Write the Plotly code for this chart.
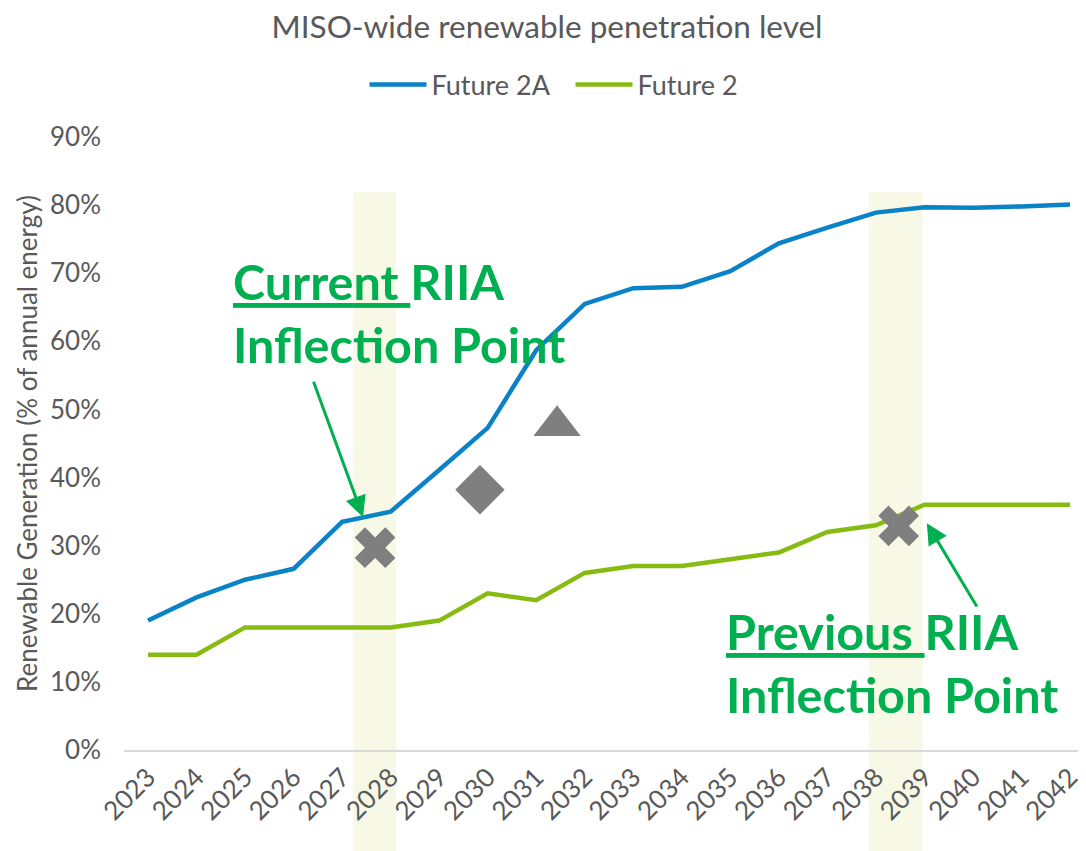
import plotly.graph_objects as go

years = list(range(2023, 2043))
future_2a = [19.0, 22.4, 25.0, 26.6, 33.5, 35.0, 41.1, 47.3, 58.7, 65.5,
             67.8, 68.0, 70.3, 74.4, 76.7, 78.9, 79.7, 79.6, 79.8, 80.1]
future_2 = [14, 14, 18, 18, 18, 18, 19, 23, 22, 26,
            27, 27, 28, 29, 32, 33, 36, 36, 36, 36]
y_ticks = list(range(0, 91, 10))
y_tick_labels = [f"{v}%" for v in y_ticks]

# gray point markers
cross_x = [2027.68, 2038.47]
cross_y = [29.7, 32.9]
diamond_x = [2029.84]
diamond_y = [38.2]
triangle_x = [2031.43]
triangle_y = [47.6]

# highlighted bands (year spans)
bands = [(2027.23, 2028.11), (2037.85, 2038.96)]

GRAY = "#595959"
GREEN_TXT = "#00B050"
FONT = "Lato"

fig = go.Figure()
for x0, x1 in bands:
    fig.add_shape(type="rect", xref="x", yref="paper", x0=x0, x1=x1, y0=-0.2, y1=0.91,
                  fillcolor="#F7F9E6", line=dict(width=0), layer="below")

fig.add_trace(go.Scatter(x=years, y=future_2a, name="Future 2A", mode="lines",
                         line=dict(color="#0A82C8", width=4.5)))
fig.add_trace(go.Scatter(x=years, y=future_2, name="Future 2", mode="lines",
                         line=dict(color="#86BC12", width=4.5)))
fig.add_trace(go.Scatter(x=cross_x, y=cross_y, mode="markers", showlegend=False,
                         marker=dict(symbol="x", size=36, color="#7F7F7F", line=dict(width=0))))
fig.add_trace(go.Scatter(x=diamond_x, y=diamond_y, mode="markers", showlegend=False,
                         marker=dict(symbol="diamond", size=38, color="#7F7F7F", line=dict(width=0))))
fig.add_trace(go.Scatter(x=triangle_x, y=triangle_y, mode="markers", showlegend=False,
                         marker=dict(symbol="triangle-up", size=41, color="#7F7F7F", line=dict(width=0))))

# callout text
fig.add_annotation(x=2024.71, y=64.2, xref="x", yref="y", xanchor="left", yanchor="middle",
                   text="<u>Current </u>RIIA<br>Inflection Point", showarrow=False, align="left",
                   font=dict(family=FONT, size=48.5, color=GREEN_TXT, weight="bold"))
fig.add_annotation(x=2034.87, y=12.8, xref="x", yref="y", xanchor="left", yanchor="middle",
                   text="<u>Previous </u>RIIA<br>Inflection Point", showarrow=False, align="left",
                   font=dict(family=FONT, size=48.5, color=GREEN_TXT, weight="bold"))
# callout arrows
fig.add_annotation(x=2027.43, y=34.2, ax=2026.40, ay=54.3, xref="x", yref="y", axref="x", ayref="y",
                   text="", showarrow=True, arrowhead=2, arrowsize=1.4, arrowwidth=3,
                   arrowcolor=GREEN_TXT, standoff=0)
fig.add_annotation(x=2039.05, y=33.3, ax=2040.10, ay=20.85, xref="x", yref="y", axref="x", ayref="y",
                   text="", showarrow=True, arrowhead=2, arrowsize=1.4, arrowwidth=3,
                   arrowcolor=GREEN_TXT, standoff=0)

# the page body adds an 8px margin, so the figure is 8px smaller than the window
fig.update_layout(
    width=1078, height=843,
    paper_bgcolor="white", plot_bgcolor="rgba(0,0,0,0)",
    margin=dict(l=116, r=0, t=129, b=101, autoexpand=False),
    font=dict(family=FONT, color=GRAY),
    title=dict(text="MISO-wide renewable penetration level", x=0.5, xanchor="center",
               y=0.978, yanchor="middle", font=dict(family=FONT, size=31.5, color=GRAY)),
    legend=dict(orientation="h", x=0.25, xanchor="left", y=1.085, yanchor="middle",
                font=dict(family=FONT, size=27, color=GRAY), itemwidth=57,
                entrywidth=134, entrywidthmode="pixels",
                bgcolor="rgba(0,0,0,0)"),
    xaxis=dict(range=[2022.505, 2042.33], tickmode="array", tickvals=years,
               ticktext=[str(y) for y in years], tickangle=-45, showgrid=False,
               showline=True, linecolor="#D9D9D9", linewidth=1.5, ticks="", zeroline=False,
               automargin=False,
               tickfont=dict(family=FONT, size=26, color=GRAY)),
    yaxis=dict(range=[0, 90], tickmode="array", tickvals=y_ticks, ticktext=y_tick_labels,
               showgrid=False, zeroline=False, showline=False, ticks="",
               ticklabelstandoff=22, automargin=False,
               tickfont=dict(family=FONT, size=26, color=GRAY),
               title=dict(text="Renewable Generation (% of annual energy)", standoff=4,
                          font=dict(family=FONT, size=26, color=GRAY))),
)

fig.write_html("out.html")
